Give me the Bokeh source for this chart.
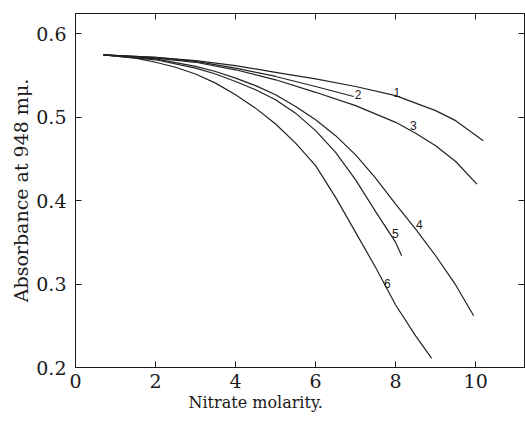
from bokeh.plotting import figure
from bokeh.models import LinearAxis, Range1d, FixedTicker, ColumnDataSource, Title
from bokeh.embed import file_html
from bokeh.resources import INLINE
from bokeh.core.properties import value

# Curve data (nitrate molarity, absorbance at 948 mu)
c1_x = [0.7, 2.0, 3.0, 4.0, 5.0, 6.0, 7.0, 8.0, 9.0, 9.5, 10.19]
c1_y = [0.575, 0.572, 0.568, 0.562, 0.554, 0.546, 0.537, 0.526, 0.508, 0.496, 0.472]

c2_x = [0.7, 2.0, 3.0, 4.0, 5.0, 6.0, 6.95]
c2_y = [0.575, 0.572, 0.567, 0.559, 0.549, 0.537, 0.525]

c3_x = [0.7, 2.0, 3.0, 4.0, 5.0, 6.0, 7.0, 8.0, 8.5, 9.0, 9.5, 10.03]
c3_y = [0.575, 0.571, 0.566, 0.557, 0.545, 0.530, 0.514, 0.494, 0.481, 0.466, 0.447, 0.420]

c4_x = [0.7, 2.0, 3.0, 3.5, 4.0, 4.5, 5.0, 5.5, 6.0, 6.5, 7.0, 7.5, 8.0, 8.5, 9.0, 9.5, 9.95]
c4_y = [0.575, 0.570, 0.561, 0.555, 0.547, 0.538, 0.527, 0.513, 0.497, 0.478, 0.455, 0.427, 0.396, 0.366, 0.334, 0.299, 0.262]

c5_x = [0.7, 2.0, 3.0, 3.5, 4.0, 4.5, 5.0, 5.5, 6.0, 6.5, 7.0, 7.5, 8.0, 8.15]
c5_y = [0.575, 0.569, 0.559, 0.552, 0.543, 0.533, 0.521, 0.505, 0.484, 0.458, 0.425, 0.387, 0.350, 0.334]

c6_x = [0.7, 1.5, 2.0, 2.5, 3.0, 3.5, 4.0, 4.5, 5.0, 5.5, 6.0, 6.5, 7.0, 7.5, 8.0, 8.5, 8.9]
c6_y = [0.575, 0.571, 0.566, 0.560, 0.552, 0.541, 0.527, 0.511, 0.492, 0.469, 0.442, 0.404, 0.362, 0.320, 0.275, 0.238, 0.211]

curve_labels = ["1", "2", "3", "4", "5", "6"]
label_x = [8.03, 7.06, 8.44, 8.59, 7.99, 7.79]
label_y = [0.530, 0.527, 0.490, 0.371, 0.361, 0.301]

x_ticks = [0, 2, 4, 6, 8, 10]
y_ticks = [0.2, 0.3, 0.4, 0.5, 0.6]
y_tick_labels = {0.2: "0.2", 0.3: "0.3", 0.4: "0.4", 0.5: "0.5", 0.6: "0.6"}

x_title = "Nitrate molarity."
y_title = "Absorbance at 948 m\u03bc."

SERIF = "DejaVu Serif"
INK = "#1a1a1a"

p = figure(width=525, height=424, output_backend="svg", toolbar_location=None,
           x_range=Range1d(0, 11.22), y_range=Range1d(0.2, 0.6245),
           x_axis_location=None, y_axis_location=None,
           min_border_left=75, min_border_right=1, min_border_top=13, min_border_bottom=57)
p.grid.visible = False
p.outline_line_color = INK
p.outline_line_width = 1
p.background_fill_color = "white"
p.border_fill_color = "white"


def style_axis(ax, show_labels):
    ax.axis_line_color = INK
    ax.major_tick_line_color = INK
    ax.major_tick_in = 6
    ax.major_tick_out = 0
    ax.minor_tick_line_color = None
    ax.major_label_text_font = SERIF
    ax.major_label_text_font_size = "19px"
    ax.major_label_text_color = INK
    if not show_labels:
        ax.major_label_text_font_size = "0px"
        ax.major_label_text_alpha = 0


xb = LinearAxis(ticker=FixedTicker(ticks=x_ticks))
style_axis(xb, True)
xb.major_label_standoff = 6
p.add_layout(xb, "below")

xt = LinearAxis(ticker=FixedTicker(ticks=x_ticks[1:]))
style_axis(xt, False)
p.add_layout(xt, "above")

yl = LinearAxis(ticker=FixedTicker(ticks=y_ticks))
style_axis(yl, True)
yl.major_label_overrides = y_tick_labels
yl.major_label_standoff = 9
yl.axis_label = y_title
yl.axis_label_text_font = SERIF
yl.axis_label_text_font_style = "normal"
yl.axis_label_text_font_size = "19px"
yl.axis_label_text_color = INK
yl.axis_label_standoff = 1
p.add_layout(yl, "left")

yr = LinearAxis(ticker=FixedTicker(ticks=y_ticks[1:]))
style_axis(yr, False)
p.add_layout(yr, "right")

for xs, ys in [(c1_x, c1_y), (c2_x, c2_y), (c3_x, c3_y), (c4_x, c4_y), (c5_x, c5_y), (c6_x, c6_y)]:
    p.line(xs, ys, line_color="#222222", line_width=1.2)

src = ColumnDataSource(dict(x=label_x, y=label_y, t=curve_labels))
p.text(x="x", y="y", text="t", source=src, text_font=value("Liberation Sans"),
       text_font_size="12px", text_align="center", text_baseline="middle", text_color=INK)

xtitle = Title(text=x_title, align="left", offset=113, text_font=SERIF,
               text_font_size="16px", text_font_style="normal", text_color=INK, standoff=0)
p.add_layout(xtitle, "below")

open("out.html", "w").write(file_html(p, INLINE))
